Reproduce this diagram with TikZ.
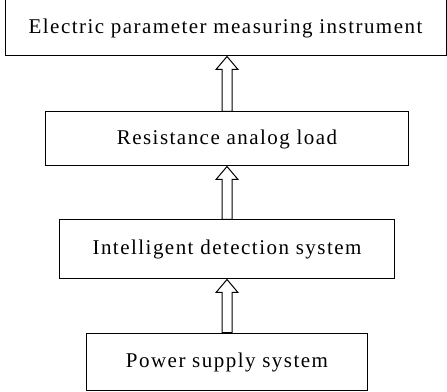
\documentclass[tikz,border=0pt]{standalone}
\usepackage{fontspec}
\setmainfont{Liberation Serif}[LetterSpace=7]
\usetikzlibrary{positioning, calc}

\tikzset{
  block/.style={draw, rectangle, line width=1pt, minimum height=56pt, inner sep=0pt, text height=15pt, text depth=4pt, font=\fontsize{21}{25}\selectfont},
  hollow/.style={draw, line width=1pt, fill=white, line join=miter}
}
% hollow upward arrow from the top of #1 to the bottom of #2
\newcommand{\hollowup}[2]{%
  \path let \p1=(#1.north), \p2=(#2.south) in
    [hollow] (\x1-5pt,\y1) -- (\x1-5pt,\y2-13pt) -- (\x1-11pt,\y2-13pt) -- (\x1,\y2)
    -- (\x1+11pt,\y2-13pt) -- (\x1+5pt,\y2-13pt) -- (\x1+5pt,\y1) -- cycle;}

\begin{document}
\begin{tikzpicture}[x=1pt, y=1pt]
\useasboundingbox (0,0) rectangle (447,391);
% Nodes
\node (power) [block, minimum width=281pt, minimum height=57pt] at (227,29.5) {Power supply system};
\node (detect) [block, minimum width=335pt, minimum height=59pt, above=53pt of power] {Intelligent detection system};
\node (load) [block, minimum width=363pt, minimum height=54pt, above=53pt of detect] {Resistance analog load};
\node (meter) [block, minimum width=441pt, above=55pt of load, xshift=-1.5pt] {Electric parameter measuring instrument};

% Arrows
\hollowup{power}{detect}
\hollowup{detect}{load}
\hollowup{load}{meter}
\end{tikzpicture}
\end{document}
